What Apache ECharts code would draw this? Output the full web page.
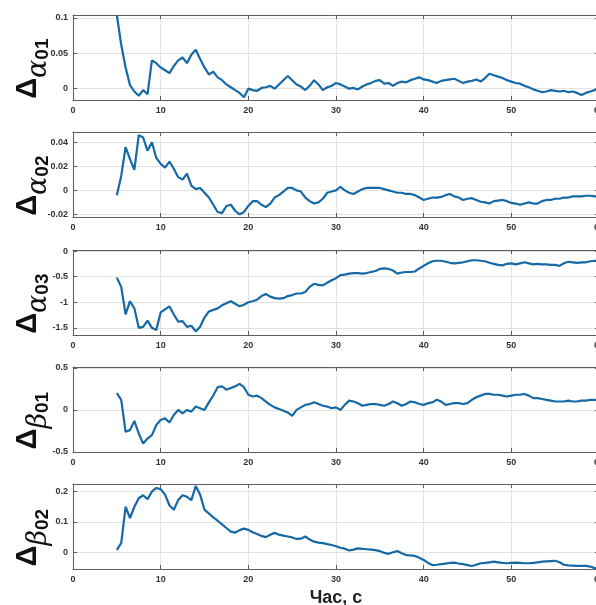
<!DOCTYPE html>
<html lang="ru">
<head>
    <meta charset="utf-8">
    <title>Ошибки оценок</title>
    <script src="https://cdn.jsdelivr.net/npm/echarts@6/dist/echarts.min.js"></script>
    <style>
        body { margin: 0; background: #fff; }
        #main { width: 596px; height: 605px; }
    </style>
</head>
<body>
<div id="main"></div>
<script>
// время, с
var time = [5,5.5,6,6.5,7,7.5,8,8.5,9,9.5,
    10,10.5,11,11.5,12,12.5,13,13.5,14,14.5,
    15,15.5,16,16.5,17,17.5,18,18.5,19,19.5,
    20,20.5,21,21.5,22,22.5,23,23.5,24,24.5,
    25,25.5,26,26.5,27,27.5,28,28.5,29,29.5,
    30,30.5,31,31.5,32,32.5,33,33.5,34,34.5,
    35,35.5,36,36.5,37,37.5,38,38.5,39,39.5,
    40,40.5,41,41.5,42,42.5,43,43.5,44,44.5,
    45,45.5,46,46.5,47,47.5,48,48.5,49,49.5,
    50,50.5,51,51.5,52,52.5,53,53.5,54,54.5,
    55,55.5,56,56.5,57,57.5,58,58.5,59,59.5,
    60];

var dAlpha01 = [0.104,0.062,0.030,0.005,-0.004,-0.010,-0.002,-0.008,0.040,0.036,
    0.030,0.026,0.022,0.032,0.040,0.044,0.036,0.048,0.055,0.042,
    0.030,0.020,0.024,0.016,0.012,0.006,0.002,-0.002,-0.006,-0.012,
    0.000,-0.002,-0.003,0.001,0.002,0.004,0.000,0.006,0.012,0.018,
    0.012,0.006,0.003,-0.002,0.004,0.012,0.006,-0.002,0.002,0.004,
    0.008,0.006,0.003,0.000,0.001,-0.001,0.003,0.006,0.008,0.011,
    0.012,0.007,0.008,0.004,0.008,0.010,0.009,0.012,0.014,0.016,
    0.013,0.012,0.010,0.008,0.011,0.012,0.013,0.014,0.011,0.008,
    0.010,0.011,0.013,0.010,0.015,0.021,0.019,0.017,0.015,0.012,
    0.010,0.008,0.007,0.004,0.002,-0.001,-0.003,-0.005,-0.004,-0.002,
    -0.003,-0.004,-0.003,-0.005,-0.004,-0.006,-0.009,-0.006,-0.004,-0.002,
    0.000];

var dAlpha02 = [-0.004,0.012,0.036,0.026,0.017,0.046,0.044,0.033,0.040,0.027,
    0.022,0.019,0.024,0.018,0.011,0.009,0.014,0.004,0.001,0.002,
    -0.002,-0.006,-0.012,-0.018,-0.019,-0.013,-0.012,-0.017,-0.020,-0.018,
    -0.013,-0.009,-0.009,-0.012,-0.014,-0.011,-0.006,-0.004,-0.001,0.002,
    0.002,0.000,-0.001,-0.006,-0.009,-0.011,-0.010,-0.007,-0.002,-0.001,
    0.000,0.003,0.000,-0.002,-0.003,-0.001,0.001,0.002,0.002,0.002,
    0.002,0.001,0.000,-0.001,-0.002,-0.002,-0.003,-0.003,-0.004,-0.006,
    -0.008,-0.007,-0.006,-0.006,-0.0055,-0.004,-0.003,-0.005,-0.006,-0.008,
    -0.007,-0.0065,-0.008,-0.0095,-0.010,-0.011,-0.009,-0.0085,-0.008,-0.009,
    -0.0105,-0.011,-0.012,-0.011,-0.010,-0.011,-0.011,-0.009,-0.008,-0.008,
    -0.007,-0.007,-0.006,-0.006,-0.005,-0.005,-0.005,-0.0045,-0.0045,-0.005,
    -0.005];

var dAlpha03 = [-0.52,-0.70,-1.24,-0.98,-1.12,-1.50,-1.48,-1.36,-1.50,-1.54,
    -1.20,-1.14,-1.08,-1.24,-1.38,-1.37,-1.48,-1.46,-1.57,-1.48,
    -1.30,-1.18,-1.15,-1.12,-1.06,-1.02,-0.98,-1.03,-1.08,-1.05,
    -1.00,-0.98,-0.95,-0.88,-0.84,-0.89,-0.92,-0.93,-0.92,-0.88,
    -0.86,-0.83,-0.83,-0.80,-0.70,-0.64,-0.66,-0.67,-0.62,-0.57,
    -0.53,-0.47,-0.46,-0.44,-0.43,-0.43,-0.44,-0.43,-0.41,-0.39,
    -0.35,-0.34,-0.35,-0.38,-0.44,-0.42,-0.41,-0.41,-0.40,-0.34,
    -0.29,-0.24,-0.20,-0.19,-0.19,-0.21,-0.23,-0.24,-0.23,-0.22,
    -0.20,-0.18,-0.18,-0.19,-0.20,-0.23,-0.25,-0.27,-0.28,-0.25,
    -0.24,-0.26,-0.24,-0.22,-0.24,-0.26,-0.25,-0.26,-0.26,-0.27,
    -0.27,-0.29,-0.24,-0.21,-0.22,-0.23,-0.22,-0.22,-0.20,-0.19,
    -0.20];

var dBeta01 = [0.20,0.12,-0.26,-0.24,-0.13,-0.28,-0.40,-0.34,-0.30,-0.18,
    -0.12,-0.10,-0.15,-0.06,0.00,-0.04,0.00,-0.02,0.04,0.02,
    0.00,0.09,0.17,0.27,0.28,0.24,0.26,0.28,0.31,0.27,
    0.18,0.16,0.17,0.14,0.10,0.06,0.03,0.01,-0.01,-0.03,
    -0.07,0.00,0.03,0.06,0.07,0.09,0.07,0.05,0.04,0.02,
    0.03,0.00,0.06,0.11,0.10,0.08,0.05,0.06,0.07,0.07,
    0.06,0.05,0.07,0.10,0.08,0.05,0.07,0.10,0.09,0.07,
    0.06,0.08,0.09,0.12,0.10,0.06,0.07,0.08,0.08,0.07,
    0.08,0.12,0.15,0.17,0.19,0.19,0.18,0.18,0.17,0.16,
    0.17,0.18,0.18,0.19,0.17,0.14,0.14,0.13,0.12,0.11,
    0.10,0.10,0.10,0.11,0.10,0.10,0.11,0.11,0.12,0.12,
    0.12];

var dBeta02 = [0.008,0.030,0.150,0.113,0.150,0.178,0.188,0.175,0.200,0.212,
    0.208,0.190,0.155,0.140,0.172,0.188,0.183,0.172,0.218,0.190,
    0.140,0.128,0.115,0.104,0.092,0.080,0.068,0.065,0.073,0.078,
    0.074,0.066,0.060,0.054,0.050,0.058,0.064,0.058,0.055,0.052,
    0.049,0.044,0.045,0.052,0.042,0.035,0.032,0.030,0.027,0.024,
    0.020,0.015,0.012,0.006,0.009,0.013,0.011,0.010,0.009,0.007,
    0.004,-0.002,-0.005,0.000,0.004,-0.003,-0.009,-0.010,-0.012,-0.018,
    -0.025,-0.035,-0.042,-0.041,-0.039,-0.037,-0.035,-0.034,-0.037,-0.039,
    -0.042,-0.045,-0.041,-0.036,-0.035,-0.033,-0.031,-0.033,-0.035,-0.036,
    -0.035,-0.034,-0.035,-0.036,-0.036,-0.035,-0.033,-0.031,-0.030,-0.029,
    -0.028,-0.033,-0.041,-0.043,-0.044,-0.045,-0.045,-0.045,-0.047,-0.052,
    -0.051];

// деления осей
var xTicks = [0, 10, 20, 30, 40, 50, 60];
var ticksAlpha01 = [0, 0.05, 0.1];
var ticksAlpha02 = [-0.02, 0, 0.02, 0.04];
var ticksAlpha03 = [-1.5, -1, -0.5, 0];
var ticksBeta01 = [-0.5, 0, 0.5];
var ticksBeta02 = [0, 0.1, 0.2];

var panels = [
    {sym: 'α', idx: '01', data: dAlpha01, ticks: ticksAlpha01, min: -0.016, max: 0.104},
    {sym: 'α', idx: '02', data: dAlpha02, ticks: ticksAlpha02, min: -0.0222, max: 0.0486},
    {sym: 'α', idx: '03', data: dAlpha03, ticks: ticksAlpha03, min: -1.64, max: 0.02},
    {sym: 'β', idx: '01', data: dBeta01, ticks: ticksBeta01, min: -0.5, max: 0.51},
    {sym: 'β', idx: '02', data: dBeta02, ticks: ticksBeta02, min: -0.055, max: 0.225}
];

var gridTops = [15, 132, 250, 367, 484];
var axisColor = '#5e5e5e';
var labelStyle = {fontSize: 9, fontWeight: 'bold', color: '#333', fontFamily: 'Liberation Sans'};

var grids = [], xAxes = [], yAxes = [], series = [];

panels.forEach(function (p, i) {
    grids.push({left: 73, top: gridTops[i], width: 526, height: 85, outerBoundsMode: 'none', containLabel: false});

    // нижняя ось с подписями
    xAxes.push({
        type: 'value', gridIndex: i, min: 0, max: 60, position: 'bottom',
        axisLine: {onZero: false, lineStyle: {color: axisColor, width: 1}},
        axisTick: {inside: true, length: 4, customValues: xTicks, lineStyle: {color: axisColor}},
        axisLabel: Object.assign({margin: 6, customValues: xTicks}, labelStyle),
        splitLine: {show: true, lineStyle: {color: '#e2e2e2', width: 1}},
        name: i === 4 ? 'Час, с' : '',
        nameLocation: 'middle', nameGap: 20,
        nameTextStyle: {fontSize: 18, fontWeight: 'bold', color: '#222', fontFamily: 'Liberation Sans'}
    });
    // верхняя рамка
    xAxes.push({
        type: 'value', gridIndex: i, min: 0, max: 60, position: 'top',
        axisLine: {onZero: false, lineStyle: {color: axisColor, width: 1}},
        axisTick: {inside: true, length: 4, customValues: xTicks, lineStyle: {color: axisColor}},
        axisLabel: {show: false},
        splitLine: {show: false}
    });

    yAxes.push({
        type: 'value', gridIndex: i, min: p.min, max: p.max, position: 'left',
        axisLine: {show: true, onZero: false, lineStyle: {color: axisColor, width: 1}},
        axisTick: {show: true, inside: true, length: 4, customValues: p.ticks, lineStyle: {color: axisColor}},
        axisLabel: Object.assign({margin: 5, customValues: p.ticks}, labelStyle),
        splitLine: {show: true, lineStyle: {color: '#e2e2e2', width: 1}},
        name: '{d|Δ}{a|' + p.sym + '}{s|' + p.idx + '}{h| }',
        nameLocation: 'middle', nameRotate: 90, nameGap: 21,
        nameMoveOverlap: false,
        nameTextStyle: {
            padding: [0, 22, 0, 0],
            rich: {
                d: {fontSize: 29, fontWeight: 'bold', fontFamily: 'Liberation Sans', color: '#111', lineHeight: 28, verticalAlign: 'top'},
                a: {fontSize: 27, fontStyle: 'italic', fontFamily: 'DejaVu Serif', color: '#111', lineHeight: 27, verticalAlign: 'bottom'},
                s: {fontSize: 19, fontWeight: 'bold', fontFamily: 'Liberation Sans', color: '#111', lineHeight: 20, verticalAlign: 'bottom'},
                h: {fontSize: 1, lineHeight: 39}
            }
        }
    });
    // правая рамка
    yAxes.push({
        type: 'value', gridIndex: i, min: p.min, max: p.max, position: 'right',
        axisLine: {show: true, onZero: false, lineStyle: {color: axisColor, width: 1}},
        axisTick: {show: true, inside: true, length: 4, customValues: p.ticks, lineStyle: {color: axisColor}},
        axisLabel: {show: false},
        splitLine: {show: false}
    });

    series.push({
        type: 'line',
        xAxisIndex: 2 * i,
        yAxisIndex: 2 * i,
        data: time.map(function (t, k) { return [t, p.data[k]]; }),
        showSymbol: false,
        clip: true,
        lineStyle: {color: '#1769a6', width: 2.2},
        animation: false
    });
});

var myChart = echarts.init(document.getElementById('main'));
myChart.setOption({
    animation: false,
    grid: grids,
    xAxis: xAxes,
    yAxis: yAxes,
    series: series
});
</script>
</body>
</html>
